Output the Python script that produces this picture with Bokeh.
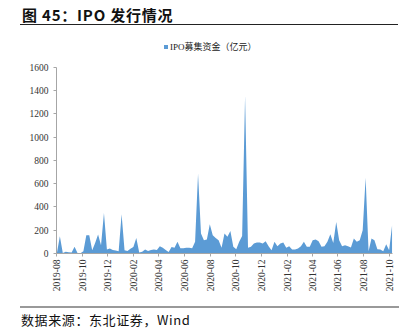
import math
import pandas as pd
from bokeh.plotting import figure
from bokeh.layouts import column
from bokeh.models import (Range1d, FixedTicker, DatetimeTickFormatter,
                          Legend, LegendItem, Div)
from bokeh.embed import file_html
from bokeh.resources import INLINE

# ---- data ----
title_text = "图 45：IPO 发行情况"
source_text = "数据来源：东北证券，Wind"
series_name = "IPO募集资金（亿元）"
first_week = "2019-08-02"
ipo_values = [5, 149, 5, 14, 10, 8, 57, 5, 3, 20,
              157, 157, 28, 90, 163, 71, 349, 34, 43, 30,
              25, 20, 337, 28, 22, 40, 55, 134, 8, 14,
              35, 22, 30, 35, 30, 63, 50, 30, 12, 55,
              50, 100, 45, 45, 50, 50, 45, 100, 686, 171,
              114, 120, 251, 157, 134, 114, 49, 171, 143, 194,
              57, 37, 100, 150, 1357, 49, 57, 86, 94, 94,
              86, 106, 63, 29, 100, 63, 86, 94, 49, 63,
              34, 34, 43, 63, 100, 57, 57, 114, 120, 106,
              57, 63, 100, 166, 91, 271, 114, 63, 71, 63,
              51, 129, 100, 114, 200, 651, 20, 129, 114, 37,
              34, 20, 80, 29, 243]
tick_labels = ["2019-08", "2019-10", "2019-12", "2020-02", "2020-04", "2020-06",
               "2020-08", "2020-10", "2020-12", "2021-02", "2021-04", "2021-06",
               "2021-08", "2021-10"]
y_ticks = [0, 200, 400, 600, 800, 1000, 1200, 1400, 1600]

dates = pd.date_range(first_week, periods=len(ipo_values), freq="7D")
tick_ms = [pd.Timestamp(t + "-01").value / 1e6 for t in tick_labels]

W = 407
TITLE_H, FIG_H, FOOT_H = 32, 273, 30

title_div = Div(
    text=("<div style=\"margin:0 0 0 20px;width:378px;height:25px;padding:2px 0 0 2px;"
          "border-bottom:1px solid #222;font-family:'Noto Sans CJK SC';font-weight:bold;"
          "font-size:15px;line-height:25px;letter-spacing:0.8px;color:#111;"
          "white-space:nowrap;\">" + title_text + "</div>"),
    width=W, height=TITLE_H, margin=0)

foot_div = Div(
    text=("<div style=\"margin:1px 0 0 20px;width:379px;height:24px;padding-left:1px;"
          "border-top:2px solid #999;font-family:'Noto Sans CJK SC';"
          "font-size:13px;line-height:24px;letter-spacing:0.6px;color:#111;"
          "white-space:nowrap;\">" + source_text + "</div>"),
    width=W, height=FOOT_H, margin=0)

p = figure(width=W, height=FIG_H, output_backend="svg", toolbar_location=None,
           x_axis_type="datetime",
           x_range=Range1d(pd.Timestamp("2019-08-01"), pd.Timestamp("2021-10-09")),
           y_range=Range1d(0, 1849),
           min_border_left=56, min_border_right=15, min_border_top=6,
           min_border_bottom=52, margin=0)
p.outline_line_color = None
p.background_fill_color = "white"
p.border_fill_color = "white"
p.xgrid.visible = False
p.ygrid.visible = False

r = p.varea(x=dates, y1=0, y2=ipo_values, fill_color="#5B9BD5")

axis_col = "#A6A6A6"

xa = p.xaxis[0]
xa.ticker = FixedTicker(ticks=tick_ms)
fmt = "%Y-%m"
xa.formatter = DatetimeTickFormatter(days=fmt, months=fmt, years=fmt, hours=fmt,
                                     minutes=fmt, seconds=fmt, milliseconds=fmt,
                                     microseconds=fmt, minsec=fmt, hourmin=fmt)
xa.major_label_orientation = math.pi / 2
xa.major_label_text_font = "Liberation Serif"
xa.major_label_text_font_size = "9.5px"
xa.major_label_text_color = "#333333"
xa.axis_line_color = axis_col
xa.major_tick_line_color = axis_col
xa.major_tick_out = 3
xa.major_tick_in = 0
xa.minor_tick_line_color = None
xa.major_label_standoff = 3

ya = p.yaxis[0]
ya.ticker = FixedTicker(ticks=y_ticks)
ya.bounds = (0, 1600)
ya.major_label_text_font = "Liberation Serif"
ya.major_label_text_font_size = "9.5px"
ya.major_label_text_color = "#333333"
ya.axis_line_color = axis_col
ya.major_tick_line_color = axis_col
ya.major_tick_out = 3
ya.major_tick_in = 0
ya.minor_tick_line_color = None
ya.major_label_standoff = 5

legend = Legend(items=[LegendItem(label=series_name, renderers=[r])],
                location=(107, 200), orientation="horizontal",
                glyph_width=5, glyph_height=5, label_height=9,
                label_standoff=2, padding=0, margin=0, spacing=0,
                border_line_color=None, background_fill_alpha=0,
                label_text_font="Liberation Serif, Noto Sans CJK SC",
                label_text_font_size="9px", label_text_color="#222222")
p.add_layout(legend)

layout = column(title_div, p, foot_div, spacing=0, margin=0)
open("out.html", "w").write(file_html(layout, INLINE))
